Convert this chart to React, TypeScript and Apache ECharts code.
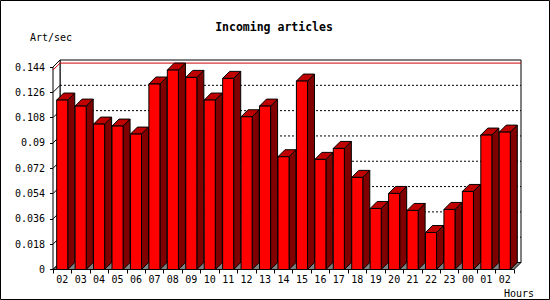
import React, { useEffect, useRef } from "react";
import * as echarts from "echarts";

const hours = ["02","03","04","05","06","07","08","09","10","11","12","13","14","15","16","17","18","19","20","21","22","23","00","01","02"];
const artPerSec = [0.1205,0.1162,0.1034,0.1020,0.0963,0.1319,0.1418,0.1366,0.1205,0.1359,0.1086,0.1162,0.0802,0.1340,0.0783,0.0861,0.0655,0.0434,0.0541,0.0420,0.0263,0.0427,0.0555,0.0956,0.0977];
const yTicks = [0, 0.018, 0.036, 0.054, 0.072, 0.09, 0.108, 0.126, 0.144];
const titleText = "Incoming articles";
const yName = "Art/sec";
const xName = "Hours";

const D = 7;
const FONT = "DejaVu Sans Mono";

export default function App() {
  const ref = useRef<HTMLDivElement>(null);
  useEffect(() => {
    document.body.style.margin = "0";
    const chart = echarts.init(ref.current!, null, { renderer: "svg" });
    const maxVal = Math.max(...artPerSec);
    const option: any = {
      animation: false,
      backgroundColor: "#ffffff",
      grid: { left: 53, top: 67, width: 461, height: 202.5 },
      graphic: [
        { type: "rect", shape: { x: 0.5, y: 0.5, width: 549, height: 299 }, style: { fill: "none", stroke: "#000", lineWidth: 1 }, z: 100 },
        { type: "text", x: 274, y: 27, style: { text: titleText, font: `bold 11.5px '${FONT}'`, fill: "#000", textAlign: "center", textVerticalAlign: "middle" } },
        { type: "text", x: 30, y: 37, style: { text: yName, font: `10px '${FONT}'`, fill: "#000", textAlign: "left", textVerticalAlign: "middle" } },
        { type: "text", x: 504, y: 293, style: { text: xName, font: `10px '${FONT}'`, fill: "#000", textAlign: "left", textVerticalAlign: "middle" } },
      ],
      xAxis: {
        type: "category",
        data: hours,
        boundaryGap: true,
        axisLine: { show: true, lineStyle: { color: "#000", width: 1 } },
        axisTick: { show: true, length: 4, lineStyle: { color: "#000" } },
        axisLabel: { color: "#000", fontFamily: FONT, fontSize: 10, margin: 5, interval: 0 },
        splitLine: { show: false },
      },
      yAxis: {
        type: "value",
        min: 0,
        max: 0.144,
        interval: 0.018,
        axisLine: { show: true, lineStyle: { color: "#000", width: 1 } },
        axisTick: { show: true, length: 3, lineStyle: { color: "#000" } },
        axisLabel: { color: "#000", fontFamily: FONT, fontSize: 10, margin: 8 },
        splitLine: { show: false },
      },
      series: [
        {
          type: "custom",
          name: "frame",
          z: 1,
          silent: true,
          data: [[0, 0]],
          renderItem: (params: any, api: any) => {
            const cs = params.coordSys;
            const L = cs.x, R = cs.x + cs.width, T = cs.y, B = cs.y + cs.height;
            const children: any[] = [];
            children.push({ type: "rect", shape: { x: L + D, y: T - D, width: R - L, height: B - T }, style: { fill: "#fff", stroke: "#000", lineWidth: 1 } });
            children.push({ type: "polygon", shape: { points: [[L, T], [L + D, T - D], [L + D, B - D], [L, B]] }, style: { fill: "#fff", stroke: "#000", lineWidth: 1 } });
            children.push({ type: "polygon", shape: { points: [[L, B], [R, B], [R + D, B - D], [L + D, B - D]] }, style: { fill: "#808080", stroke: "#000", lineWidth: 1 } });
            yTicks.forEach((v) => {
              if (v <= 0 || v >= 0.144) return;
              const y = api.coord([0, v])[1];
              children.push({ type: "line", shape: { x1: L, y1: y, x2: L + D, y2: y - D }, style: { stroke: "#000", lineWidth: 1 } });
              children.push({ type: "line", shape: { x1: L + D, y1: y - D, x2: R + D, y2: y - D }, style: { stroke: "#000", lineWidth: 1, lineDash: [2, 2] } });
            });
            const ym = api.coord([0, maxVal])[1];
            children.push({ type: "line", shape: { x1: L, y1: ym, x2: L + D, y2: ym - D }, style: { stroke: "#cc0000", lineWidth: 1 } });
            children.push({ type: "line", shape: { x1: L + D, y1: ym - D, x2: R + D, y2: ym - D }, style: { stroke: "#cc0000", lineWidth: 1 } });
            return { type: "group", children };
          },
        },
        {
          type: "custom",
          name: "Art/sec",
          z: 2,
          data: artPerSec.map((v, i) => [i, v]),
          renderItem: (params: any, api: any) => {
            const idx = api.value(0);
            const val = api.value(1);
            const top = api.coord([idx, val]);
            const base = api.coord([idx, 0]);
            const bw = api.size([1, 0])[0] * 0.6;
            const x1 = top[0] - bw / 2, x2 = top[0] + bw / 2;
            const yt = top[1], yb = base[1];
            return {
              type: "group",
              children: [
                { type: "polygon", shape: { points: [[x2, yt], [x2 + D, yt - D], [x2 + D, yb - D], [x2, yb]] }, style: { fill: "#800000", stroke: "#000", lineWidth: 1 } },
                { type: "polygon", shape: { points: [[x1, yt], [x2, yt], [x2 + D, yt - D], [x1 + D, yt - D]] }, style: { fill: "#c00000", stroke: "#000", lineWidth: 1 } },
                { type: "rect", shape: { x: x1, y: yt, width: bw, height: yb - yt }, style: { fill: "#ff0000", stroke: "#000", lineWidth: 1 } },
              ],
            };
          },
        },
      ],
    };
    chart.setOption(option);
    return () => chart.dispose();
  }, []);
  return <div ref={ref} style={{ width: 550, height: 300 }} />;
}
